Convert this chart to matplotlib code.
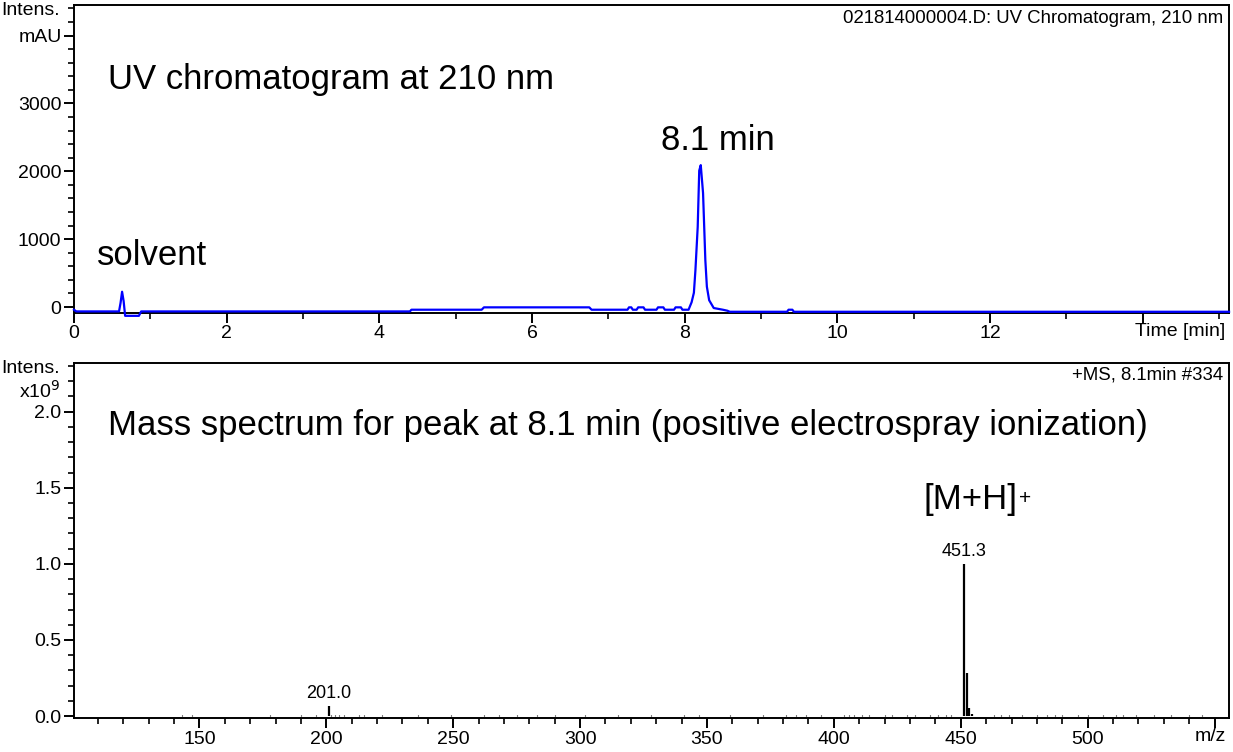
import numpy as np
import matplotlib
matplotlib.use("Agg")
from matplotlib import pyplot as plt
from matplotlib.ticker import MultipleLocator, FixedLocator, FixedFormatter

plt.rcParams['font.family'] = ['Liberation Sans', 'DejaVu Sans']

#
# Data
#
# UV chromatogram, 210 nm (time in min, intensity in mAU)
uv_time = [
    0.00, 0.03, 0.59, 0.61, 0.63, 0.65, 0.67, 0.85, 0.88,
    4.40, 4.42, 5.34, 5.37, 6.75, 6.78,
    7.25, 7.27, 7.30, 7.32, 7.37, 7.39, 7.46, 7.48,
    7.63, 7.65, 7.72, 7.74, 7.86, 7.88, 7.95, 7.97,
    8.05, 8.09, 8.12, 8.14, 8.17, 8.19, 8.21, 8.24, 8.27, 8.29, 8.32, 8.38, 8.50, 8.56, 8.59,
    9.34, 9.36, 9.41, 9.43, 15.13]
uv_mau = [
    -40, -65, -65, 60, 225, 90, -130, -130, -65,
    -65, -40, -40, -5, -5, -40,
    -40, -5, -5, -40, -40, -5, -5, -40,
    -40, -5, -5, -40, -40, -5, -5, -40,
    -40, 70, 210, 540, 1180, 2010, 2090, 1680, 690, 300, 100, -15, -40, -55, -70,
    -70, -40, -40, -70, -70]

# Mass spectrum at 8.1 min (m/z, intensity x10^9)
ms_mz_main = [201.0, 451.3, 452.3, 453.3, 454.3]
ms_int_main = [0.066, 1.00, 0.285, 0.055, 0.012]

ms_mz_noise = [143, 147, 178, 190, 196, 202, 203.5, 205, 207, 213, 215, 222, 236,
               249, 262, 268, 275, 283, 290, 302, 315, 328, 341, 347, 359, 372,
               381, 385, 389, 395, 404, 406, 408, 411, 414, 420, 423, 429, 432,
               438, 441, 444, 446, 463, 466, 469, 474, 480, 484, 487, 490, 496,
               500, 506, 511, 514, 519, 526, 533, 540, 545]
ms_int_noise = [0.004, 0.004, 0.004, 0.004, 0.005, 0.010, 0.008, 0.006, 0.006, 0.004,
                0.004, 0.004, 0.004, 0.005, 0.004, 0.004, 0.004, 0.004, 0.004, 0.005,
                0.004, 0.004, 0.004, 0.006, 0.004, 0.004, 0.005, 0.004, 0.005, 0.005,
                0.006, 0.010, 0.006, 0.006, 0.005, 0.006, 0.006, 0.005, 0.006, 0.006,
                0.006, 0.006, 0.006, 0.005, 0.005, 0.005, 0.004, 0.005, 0.005, 0.005,
                0.005, 0.004, 0.005, 0.004, 0.005, 0.005, 0.004, 0.004, 0.004, 0.004,
                0.004]

peak_labels = [(201.0, 0.066, "201.0"), (451.3, 1.00, "451.3")]


#
# Figure
#
fig = plt.figure(figsize=(12.33, 7.52), dpi=100)
ax1 = fig.add_axes([0.060, 0.5838, 0.9368, 0.4096])
ax2 = fig.add_axes([0.060, 0.0452, 0.9368, 0.4721])

for ax in (ax1, ax2):
    for s in ax.spines.values():
        s.set_linewidth(1.4)
    ax.tick_params(which='major', direction='out', length=7, width=1.4, labelsize=14, pad=2)
    ax.tick_params(which='minor', direction='out', length=4, width=1.2)

# --- UV chromatogram
ax1.plot(uv_time, uv_mau, color='#0000ff', lw=1.6, clip_on=False, zorder=3)
ax1.set_xlim(0, 15.13)
ax1.set_ylim(-88, 4450)
ax1.xaxis.set_major_locator(FixedLocator([0, 2, 4, 6, 8, 10, 12, 14]))
ax1.xaxis.set_major_formatter(FixedFormatter(['0', '2', '4', '6', '8', '10', '12', '']))
ax1.xaxis.set_minor_locator(MultipleLocator(1))
ax1.yaxis.set_major_locator(FixedLocator([0, 1000, 2000, 3000, 4000]))
ax1.yaxis.set_major_formatter(FixedFormatter(['0', '1000', '2000', '3000', 'mAU']))
ax1.yaxis.set_minor_locator(MultipleLocator(200))
ax1.text(-0.012, 4370, "Intens.", fontsize=14, ha='right', va='center',
         transform=ax1.get_yaxis_transform())
ax1.text(0.997, -0.033, "Time [min]", fontsize=14, ha='right', va='top',
         transform=ax1.transAxes)
ax1.text(0.995, 0.985, "021814000004.D: UV Chromatogram, 210 nm", fontsize=13.4,
         ha='right', va='top', transform=ax1.transAxes)
ax1.text(0.445, 3345, "UV chromatogram at 210 nm", fontsize=25, ha='left', va='center')
ax1.text(8.43, 2460, "8.1 min", fontsize=25, ha='center', va='center')
ax1.text(1.02, 757, "solvent", fontsize=25, ha='center', va='center')

# --- Mass spectrum
ax2.vlines(ms_mz_noise, 0, ms_int_noise, color='black', lw=0.8)
ax2.vlines(ms_mz_main, 0, ms_int_main, color='black', lw=1.6)
for mz, h, lab in peak_labels:
    ax2.annotate(lab, (mz, h), xytext=(0, 3), textcoords='offset points',
                 ha='center', va='bottom', fontsize=13)
ax2.set_xlim(100.6, 555.7)
ax2.set_ylim(-0.013, 2.32)
ax2.xaxis.set_major_locator(FixedLocator([150, 200, 250, 300, 350, 400, 450, 500, 550]))
ax2.xaxis.set_major_formatter(FixedFormatter(['150', '200', '250', '300', '350', '400',
                                              '450', '500', '']))
ax2.xaxis.set_minor_locator(MultipleLocator(10))
ax2.yaxis.set_major_locator(MultipleLocator(0.5))
ax2.yaxis.set_major_formatter(plt.FormatStrFormatter('%.1f'))
ax2.yaxis.set_minor_locator(MultipleLocator(0.1))
ax2.text(-0.012, 2.285, "Intens.", fontsize=14, ha='right', va='center',
         transform=ax2.get_yaxis_transform())
ax2.text(-0.012, 2.14, "x10$^{9}$", fontsize=14, ha='right', va='center',
         transform=ax2.get_yaxis_transform())
ax2.text(0.997, -0.029, "m/z", fontsize=14, ha='right', va='top',
         transform=ax2.transAxes)
ax2.text(0.995, 0.99, "+MS, 8.1min #334", fontsize=13.4, ha='right', va='top',
         transform=ax2.transAxes)
ax2.text(114, 1.91, "Mass spectrum for peak at 8.1 min (positive electrospray ionization)",
         fontsize=25, ha='left', va='center')
mh = ax2.text(472.5, 1.42, "[M+H]", fontsize=25, ha='right', va='center')
ax2.annotate("+", xy=(1.0, 1.0), xycoords=mh, xytext=(1, -4), textcoords='offset points',
             ha='left', va='top', fontsize=15)

fig.savefig("out.png", dpi=100)
